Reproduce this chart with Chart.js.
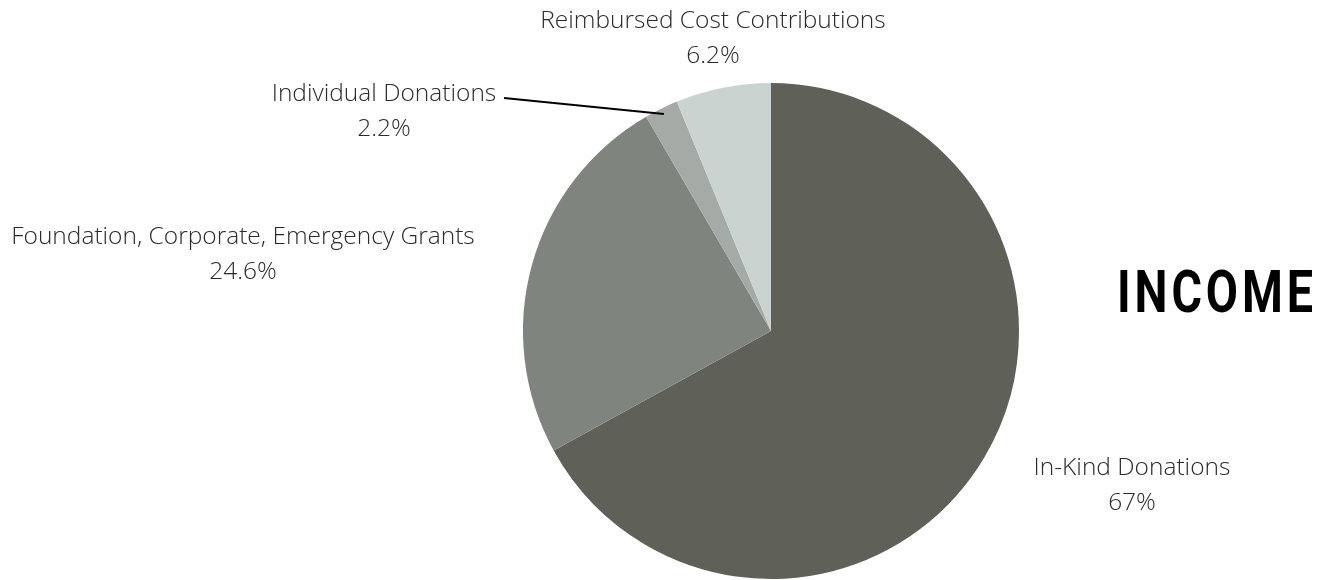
<!DOCTYPE html>
<html>
<head>
<meta charset="utf-8">
<script src="https://cdn.jsdelivr.net/npm/chart.js@4.4.1/dist/chart.umd.min.js"></script>
<style>
    html, body { margin: 0; padding: 0; background: #fff; }
    #wrap { width: 1324px; height: 580px; position: relative; }
</style>
</head>
<body>
<div id="wrap"><canvas id="income_pie"></canvas></div>
<script>
const categories = ['In-Kind Donations', 'Foundation, Corporate, Emergency Grants', 'Individual Donations', 'Reimbursed Cost Contributions'];
const values = [67, 24.6, 2.2, 6.2];
const valueLabels = ['67%', '24.6%', '2.2%', '6.2%'];
const sliceColors = ['#5f6159', '#80847e', '#a5aaa7', '#cbd3d1'];

// where each label sits (centre x, first line y) and if it gets a leader line
const labelSpots = [
    { x: 1132, y: 468, leader: false },
    { x: 243, y: 237, leader: false },
    { x: 384, y: 94, leader: true },
    { x: 713, y: 21, leader: false }
];

const sliceLabels = {
    id: 'sliceLabels',
    afterDraw(chart) {
        const ctx = chart.ctx;
        const arcs = chart.getDatasetMeta(0).data;
        ctx.save();
        ctx.fillStyle = '#2a2a2a';
        ctx.font = '300 24.5px "Open Sans"';
        ctx.textAlign = 'center';
        ctx.textBaseline = 'middle';
        arcs.forEach((arc, i) => {
            const spot = labelSpots[i];
            ctx.fillText(categories[i], spot.x, spot.y);
            ctx.fillText(valueLabels[i], spot.x, spot.y + 35);
            if (spot.leader) {
                const mid = (arc.startAngle + arc.endAngle) / 2;
                const px = arc.x + Math.cos(mid) * (arc.outerRadius - 6);
                const py = arc.y + Math.sin(mid) * (arc.outerRadius - 6);
                ctx.beginPath();
                ctx.strokeStyle = '#000';
                ctx.lineWidth = 2;
                ctx.moveTo(504, 98);
                ctx.lineTo(px, py);
                ctx.stroke();
            }
        });
        // title
        ctx.fillStyle = '#000';
        ctx.font = 'bold 60px Roboto';
        ctx.textAlign = 'left';
        ctx.textBaseline = 'alphabetic';
        const title = 'INCOME';
        const spacing = 5;
        let total = 0;
        for (const ch of title) total += ctx.measureText(ch).width + spacing;
        total -= spacing;
        const sx = 196 / total;
        ctx.translate(1117, 312);
        ctx.scale(sx, 1);
        let cx = 0;
        for (const ch of title) {
            ctx.fillText(ch, cx, 0);
            cx += ctx.measureText(ch).width + spacing;
        }
        ctx.restore();
    }
};

const income_pie = document.getElementById('income_pie').getContext('2d');
new Chart(income_pie, {
    type: 'pie',
    data: {
        labels: categories,
        datasets: [{
            data: values,
            backgroundColor: sliceColors,
            borderWidth: 0
        }]
    },
    options: {
        responsive: true,
        maintainAspectRatio: false,
        animation: false,
        layout: {
            padding: { top: 83, bottom: 1, left: 523, right: 305 }
        },
        plugins: {
            legend: { display: false },
            tooltip: { enabled: false },
            title: { display: false }
        }
    },
    plugins: [sliceLabels]
});
</script>
</body>
</html>
